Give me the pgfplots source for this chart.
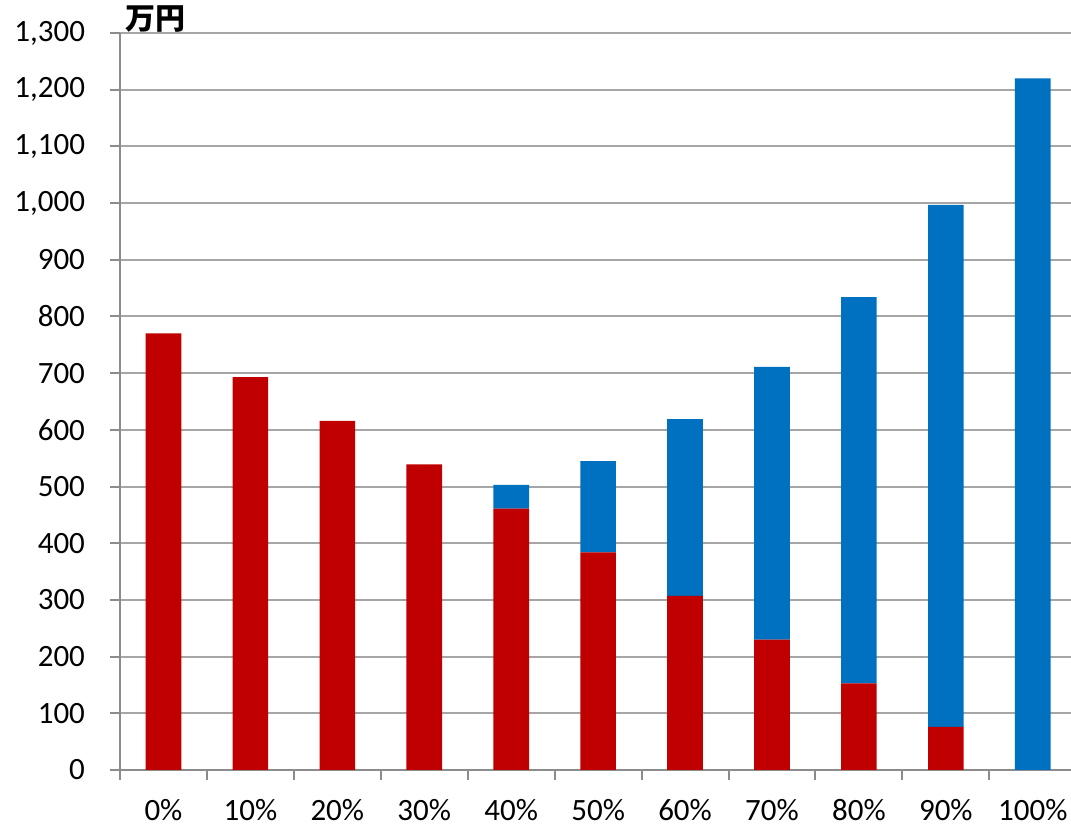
\documentclass[border=0pt]{standalone}
\usepackage{pgfplots}
\pgfplotsset{compat=1.18}
\usepackage{fontspec}
\setmainfont{Carlito}
\newfontfamily\cjk{Noto Sans CJK JP}
\definecolor{myred}{HTML}{C00000}
\definecolor{myblue}{HTML}{0070C0}
\definecolor{gridc}{HTML}{A6A6A6}
\definecolor{axisc}{HTML}{8C8C8C}
\begin{document}
\begin{tikzpicture}
\begin{axis}[
  scale only axis, width=475.5pt, height=368.5pt,
  ybar stacked, bar width=0.41,
  xmin=-0.5, xmax=10.44, ymin=0, ymax=1300,
  ytick={0,100,...,1300},
  xtick={0,...,10},
  xticklabels={0\%,10\%,20\%,30\%,40\%,50\%,60\%,70\%,80\%,90\%,100\%},
  minor xtick={-0.5,0.5,...,9.5},
  major x tick style={draw=none},
  axis x line*=bottom, axis y line*=left,
  axis line style={axisc, line width=1pt},
  ymajorgrids, grid style={gridc, line width=1pt},
  tick align=outside,
  major tick length=5pt, minor tick length=5pt,
  tick style={axisc, line width=1pt},
  ticklabel style={font=\fontsize{15.5}{18}\selectfont},
  /pgf/number format/assume math mode=true,
  /pgf/number format/.cd, 1000 sep={,},
  /pgfplots/.cd,
  scaled y ticks=false,
  xticklabel style={yshift=-6pt},
  yticklabel style={xshift=-9pt},
  clip=false,
]
\addplot[fill=myred, draw=none] coordinates {(0,770) (1,693) (2,616) (3,539) (4,461) (5,384) (6,307) (7,230) (8,153) (9,76) (10,0)};
\addplot[fill=myblue, draw=none] coordinates {(0,0) (1,0) (2,0) (3,0) (4,42) (5,161) (6,312) (7,481) (8,681) (9,921) (10,1220)};
\node[anchor=base west, inner sep=0pt, font=\cjk\bfseries\fontsize{15}{18}\selectfont] at (rel axis cs:0,1) [xshift=2.5pt, yshift=1.5pt] {万円};
\coordinate (bl) at (rel axis cs:0,0);
\coordinate (tr) at (rel axis cs:1,1);
\end{axis}
\pgfresetboundingbox
\path ([xshift=-60pt, yshift=-29pt]bl) rectangle ([yshift=16.5pt]tr);
\end{tikzpicture}
\end{document}
